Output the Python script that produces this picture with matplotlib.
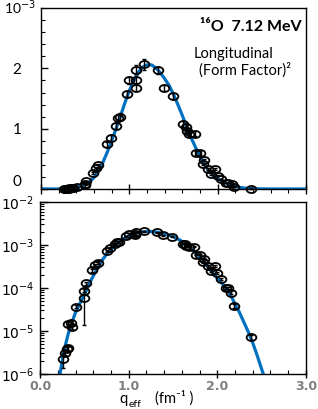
import numpy as np
import matplotlib
matplotlib.use("Agg")
import matplotlib.pyplot as plt
from matplotlib.path import Path
from matplotlib.markers import MarkerStyle
from matplotlib.transforms import Affine2D
from matplotlib.ticker import MultipleLocator, LogLocator, NullFormatter, FixedLocator

# ---- data (form factor squared, in units of 1e-3) ----
q_data = [0.26, 0.28, 0.30, 0.32, 0.32, 0.35, 0.36, 0.41, 0.50, 0.50,
          0.515, 0.59, 0.62, 0.65, 0.75, 0.79, 0.85, 0.87, 0.89, 0.97,
          1.00, 1.07, 1.07, 1.08, 1.17, 1.32, 1.39, 1.49, 1.61, 1.64,
          1.65, 1.68, 1.74, 1.76, 1.80, 1.84, 1.85, 1.89, 1.93, 1.97,
          2.00, 2.04, 2.10, 2.12, 2.16, 2.19, 2.38]
f2_data = [0.0022, 0.0031, 0.0038, 0.0040, 0.0145, 0.0155, 0.0125, 0.037, 0.058, 0.087,
           0.13, 0.26, 0.34, 0.39, 0.74, 0.85, 1.05, 1.18, 1.20, 1.58,
           1.80, 1.68, 1.80, 1.98, 2.07, 1.97, 1.68, 1.55, 1.08, 1.03,
           0.97, 0.92, 0.92, 0.60, 0.60, 0.41, 0.48, 0.33, 0.25, 0.33,
           0.22, 0.16, 0.10, 0.10, 0.078, 0.038, 0.0071]
f2_err = [0.0008, 0.0004, 0.0004, 0.0004, 0.0015, 0.0015, 0.0015, 0.003, 0.044, 0.008,
          0.01, 0.02, 0.02, 0.025, 0.04, 0.05, 0.05, 0.06, 0.06, 0.05,
          0.06, 0.06, 0.06, 0.08, 0.09, 0.06, 0.05, 0.05, 0.05, 0.04,
          0.04, 0.04, 0.04, 0.03, 0.03, 0.02, 0.02, 0.02, 0.015, 0.015,
          0.012, 0.01, 0.006, 0.006, 0.005, 0.004, 0.0008]

q_curve = [0.0, 0.20, 0.225, 0.25, 0.28, 0.32, 0.36, 0.40, 0.45, 0.50,
           0.55, 0.60, 0.65, 0.70, 0.75, 0.80, 0.85, 0.90, 0.95, 1.00,
           1.05, 1.10, 1.15, 1.20, 1.25, 1.30, 1.35, 1.40, 1.45, 1.50,
           1.55, 1.60, 1.65, 1.70, 1.75, 1.80, 1.85, 1.90, 1.95, 2.00,
           2.05, 2.10, 2.15, 2.20, 2.25, 2.30, 2.35, 2.40, 2.45, 2.50,
           2.52, 2.55, 2.60, 3.0]
f2_curve = [1e-6, 2e-4, 1.0e-3, 2.0e-3, 4.2e-3, 8.9e-3, 0.016, 0.027, 0.044, 0.07,
            0.12, 0.19, 0.29, 0.44, 0.61, 0.80, 1.00, 1.21, 1.43, 1.63,
            1.80, 1.93, 2.02, 2.06, 2.06, 2.01, 1.93, 1.83, 1.72, 1.57,
            1.40, 1.22, 1.03, 0.85, 0.69, 0.54, 0.41, 0.30, 0.22, 0.17,
            0.13, 0.10, 0.068, 0.043, 0.027, 0.016, 0.0095, 0.0053, 0.0027, 0.0013,
            0.001, 0.0004, 1e-5, 1e-6]

scale = 1e-3
q_data = np.array(q_data)
f2_data = np.array(f2_data) * scale
f2_err = np.array(f2_err) * scale
q_curve = np.array(q_curve)
f2_curve = np.array(f2_curve) * scale

blue = "#0070C0"
txtfont = ["Lato", "DejaVu Sans"]

# ellipse-shaped open marker
ell = Path.unit_circle().transformed(Affine2D().scale(1.0, 0.72))
mk = MarkerStyle(ell)

fig = plt.figure(figsize=(3.18, 4.09), dpi=100)
ax1 = fig.add_axes([0.129, 0.538, 0.833, 0.442])
ax2 = fig.add_axes([0.126, 0.0856, 0.836, 0.4205])


def draw(ax, yscale):
    ax.plot(q_curve, f2_curve / yscale, color=blue, lw=2.3, zorder=2)
    ax.errorbar(q_data, f2_data / yscale, yerr=f2_err / yscale, fmt="none",
                ecolor="black", elinewidth=1.0, capsize=1.5, capthick=1.0,
                zorder=3, clip_on=False)
    ax.plot(q_data, f2_data / yscale, linestyle="none", marker=mk, ms=7,
            mfc="none", mec="black", mew=1.3, zorder=4, clip_on=False)
    ax.set_xlim(0, 3)
    for s in ax.spines.values():
        s.set_linewidth(1.0)


# ---- top panel: linear ----
draw(ax1, 1e-3)
ax1.set_ylim(0, 3)
ax1.yaxis.set_major_locator(FixedLocator([0, 1, 2]))
ax1.yaxis.set_minor_locator(MultipleLocator(0.2))
ax1.xaxis.set_major_locator(MultipleLocator(1.0))
ax1.xaxis.set_minor_locator(MultipleLocator(0.2))
ax1.set_xticklabels([])
ax1.tick_params(axis="y", which="major", direction="in", length=5, width=1,
                labelsize=11, pad=14)
ax1.tick_params(axis="y", which="minor", direction="in", length=3, width=0.8)
ax1.tick_params(axis="x", which="major", direction="inout", length=7, width=1)
ax1.tick_params(axis="x", which="minor", direction="out", length=3, width=0.8)
for lab in ax1.get_yticklabels():
    lab.set_family(txtfont)
ax1.get_yticklabels()[0].set_verticalalignment("bottom")
ax1.text(-0.02, 1.0, r"10$^{-3}$", transform=ax1.transAxes, ha="right",
         va="center", fontsize=10, family=txtfont)

ax1.text(0.60, 0.895, "\u00b9\u2076O  7.12 MeV", transform=ax1.transAxes,
         fontsize=11.5, fontweight="bold", family=txtfont, ha="left", va="center")
ax1.text(0.575, 0.745, "Longitudinal", transform=ax1.transAxes,
         fontsize=10.5, family=txtfont, ha="left", va="center")
ax1.text(0.595, 0.66, "(Form Factor)\u00b2", transform=ax1.transAxes,
         fontsize=10.5, family=txtfont, ha="left", va="center")

# ---- bottom panel: log ----
draw(ax2, 1.0)
ax2.set_yscale("log")
ax2.set_ylim(1e-6, 1e-2)
ax2.yaxis.set_major_locator(LogLocator(base=10, numticks=10))
ax2.yaxis.set_minor_locator(LogLocator(base=10, subs=np.arange(2, 10), numticks=20))
ax2.yaxis.set_minor_formatter(NullFormatter())
ax2.xaxis.set_major_locator(MultipleLocator(1.0))
ax2.xaxis.set_minor_locator(MultipleLocator(0.2))
ax2.xaxis.set_major_formatter(plt.FuncFormatter(lambda v, p: f"{v:.1f}"))
ax2.tick_params(axis="y", which="major", direction="in", length=6, width=1,
                labelsize=10, pad=4)
ax2.tick_params(axis="y", which="minor", direction="in", length=3, width=0.8)
ax2.tick_params(axis="x", which="major", direction="inout", length=6, width=1,
                labelsize=9, labelcolor="#7f7f7f", pad=1.5)
ax2.tick_params(axis="x", which="minor", direction="in", length=3, width=0.8)
for lab in ax2.get_xticklabels():
    lab.set_fontweight("bold")

# x-axis label built from plain text pieces
fig.text(0.375, 0.0147, "q", fontsize=10.5, family=txtfont, ha="left", va="baseline")
fig.text(0.405, 0.004, "eff", fontsize=7.5, family=txtfont, ha="left", va="baseline")
fig.text(0.487, 0.0147, "(fm\u207b\u00b9 )", fontsize=10.5, family=txtfont,
         ha="left", va="baseline")

fig.savefig("out.png", dpi=100)
